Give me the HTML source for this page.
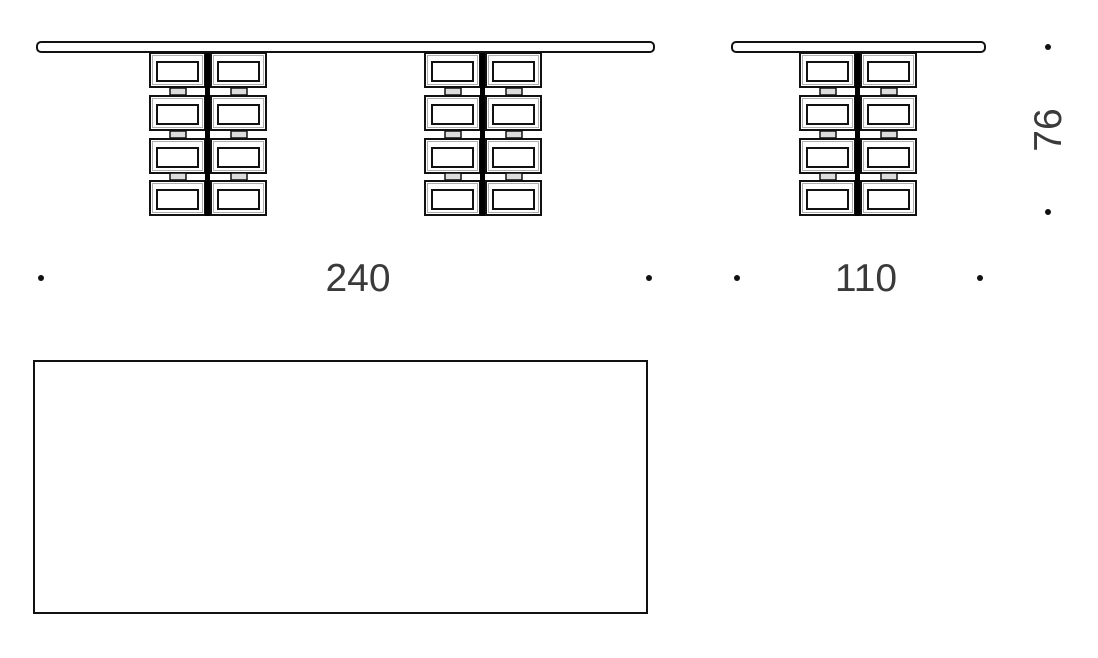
<!DOCTYPE html>
<html><head><style>
html,body{margin:0;padding:0;background:#fff;}
svg{display:block;}
text{font-family:"Liberation Sans",sans-serif;fill:#3a3a3a;}
</style></head><body>
<svg width="1098" height="658" viewBox="0 0 1098 658" xmlns="http://www.w3.org/2000/svg">
<defs>
<g id="cell" fill="none" stroke="#111">
  <rect x="1" y="0" width="55" height="34" stroke-width="2"/>
  <rect x="3.5" y="2.5" width="50" height="29" stroke-width="0.8" stroke="#999"/>
  <rect x="8" y="9" width="41" height="19" stroke-width="2"/>
</g>
<g id="col">
  <use href="#cell" x="0" y="0"/><use href="#cell" x="0" y="43"/><use href="#cell" x="0" y="86"/><use href="#cell" x="0" y="128"/>
  <use href="#cell" x="61" y="0"/><use href="#cell" x="61" y="43"/><use href="#cell" x="61" y="86"/><use href="#cell" x="61" y="128"/>
  <rect x="56" y="0" width="5" height="163" fill="#000"/>
  <g fill="#ddd" stroke="#111" stroke-width="1.5">
    <rect x="21" y="35" width="16" height="7"/><rect x="82" y="35" width="16" height="7"/>
    <rect x="21" y="78" width="16" height="7"/><rect x="82" y="78" width="16" height="7"/>
    <rect x="21" y="120" width="16" height="7"/><rect x="82" y="120" width="16" height="7"/>
  </g>
</g>
</defs>
<rect x="37" y="42" width="617" height="10" rx="4" fill="#fff" stroke="#111" stroke-width="2"/>
<rect x="732" y="42" width="253" height="10" rx="4" fill="#fff" stroke="#111" stroke-width="2"/>
<use href="#col" x="149" y="53"/>
<use href="#col" x="424" y="53"/>
<use href="#col" x="799" y="53"/>
<g fill="#111">
<circle cx="41" cy="278" r="3"/><circle cx="649" cy="278" r="3"/>
<circle cx="737" cy="278" r="3"/><circle cx="980" cy="278" r="3"/>
<circle cx="1048" cy="47" r="3"/><circle cx="1048" cy="212" r="3"/>
</g>
<text x="358" y="291" font-size="39" text-anchor="middle">240</text>
<text x="866" y="291" font-size="39" text-anchor="middle">110</text>
<text x="0" y="0" font-size="39" text-anchor="middle" transform="translate(1061,130) rotate(-90)">76</text>
<rect x="34" y="361" width="613" height="252" fill="none" stroke="#111" stroke-width="2"/>
</svg>
</body></html>
